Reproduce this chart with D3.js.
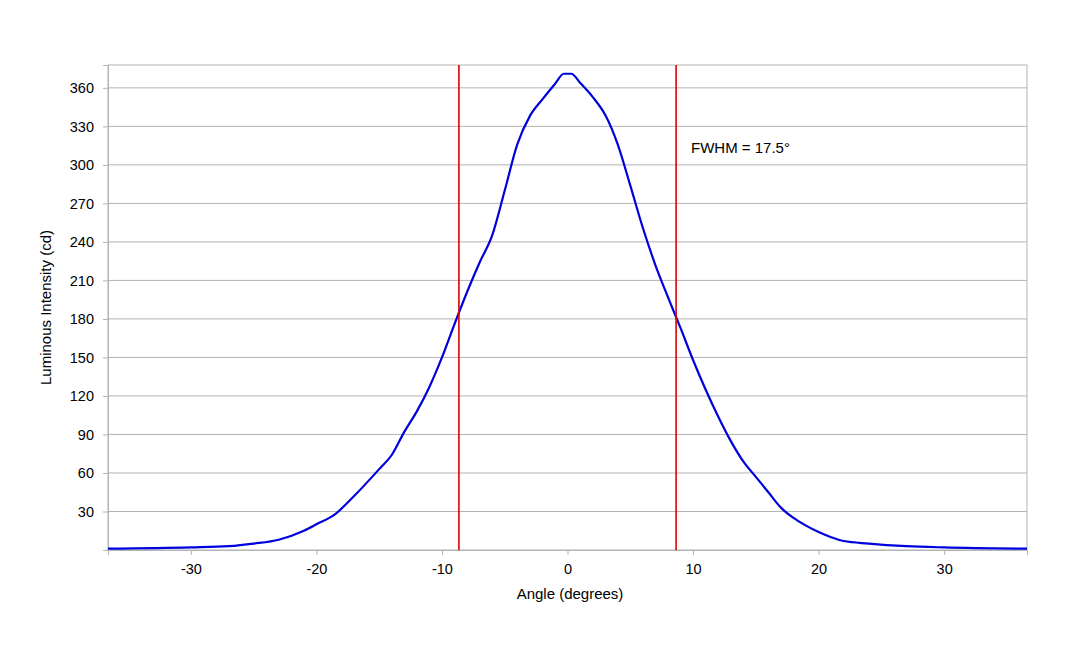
<!DOCTYPE html>
<html><head><meta charset="utf-8">
<script src="https://cdn.jsdelivr.net/npm/d3@7"></script>
<style>body{margin:0;background:#fff}text{font-family:"Liberation Sans",Arial,sans-serif}</style>
</head><body><svg id="c" width="1080" height="648"></svg>
<script>
const angles = [-36.6,-30,-27,-25,-23,-21,-20,-18.5,-17,-15,-14,-13,-12,-11,-10,-9,-8,-7,-6,-5,-4,-3,-2,-1,-0.3,0.3,1,2,3,4,5,6,7,8,9,10,11,12,13,14,15,16,17,18,19,20,21,22,24,27,30,36.6];
const intensity = [1,2,3,5,8,15,20,28,42,63,74,92,108,127,150,176,201,224,245,280,316,338,351,363,371,371,364,353,339,316,284,251,222,197,173,148,125,104,85,69,57,45,33,25,19,14,10,7,5,3,2,1];
const xTicks = [-30,-20,-10,0,10,20,30];
const yTicks = [30,60,90,120,150,180,210,240,270,300,330,360];
const fwhmLines = [-8.65,8.65];

const svg = d3.select("#c");
const m = {l:108, r:1027, t:65, b:550};
const x = d3.scaleLinear().domain([-36.6,36.6]).range([m.l,m.r]);
const y = d3.scaleLinear().domain([0,377.8]).range([m.b,m.t]);

// grid
svg.append("g").selectAll("line").data(yTicks).join("line")
  .attr("x1",m.l).attr("x2",m.r).attr("y1",d=>y(d)).attr("y2",d=>y(d))
  .attr("stroke","#b3b3b3");
svg.append("rect").attr("x",m.l).attr("y",m.t).attr("width",m.r-m.l).attr("height",m.b-m.t)
  .attr("fill","none").attr("stroke","#b3b3b3");

// axes
const xa = svg.append("g").attr("transform",`translate(0,${m.b})`)
  .call(d3.axisBottom(x).tickValues(xTicks).tickSize(5).tickPadding(9).tickFormat(d=>String(d)));
const ya = svg.append("g").attr("transform",`translate(${m.l},0)`)
  .call(d3.axisLeft(y).tickValues(yTicks).tickSize(5).tickPadding(9));
[xa,ya].forEach(a=>{a.select(".domain").attr("stroke","#b3b3b3");
  a.selectAll(".tick line").attr("stroke","#b3b3b3");
  a.selectAll("text").attr("font-size",14.5).attr("fill","#000").style("font-family","'Liberation Sans',Arial,sans-serif");});

// curve
svg.append("path").datum(angles.map((a,i)=>[a,intensity[i]]))
  .attr("d",d3.line().x(d=>x(d[0])).y(d=>y(d[1])).curve(d3.curveMonotoneX))
  .attr("fill","none").attr("stroke","#0000dd").attr("stroke-width",2.2);

// FWHM lines
svg.append("g").selectAll("line").data(fwhmLines).join("line")
  .attr("x1",d=>x(d)).attr("x2",d=>x(d)).attr("y1",m.t).attr("y2",m.b)
  .attr("stroke","#dd0000").attr("stroke-width",1.6);

svg.append("text").attr("x",691).attr("y",153).attr("font-size",15).text("FWHM = 17.5°");
svg.append("text").attr("x",570).attr("y",599).attr("text-anchor","middle").attr("font-size",15).text("Angle (degrees)");
svg.append("text").attr("transform",`translate(51,${(m.t+m.b)/2}) rotate(-90)`).attr("text-anchor","middle").attr("font-size",15).text("Luminous Intensity (cd)");
</script></body></html>
